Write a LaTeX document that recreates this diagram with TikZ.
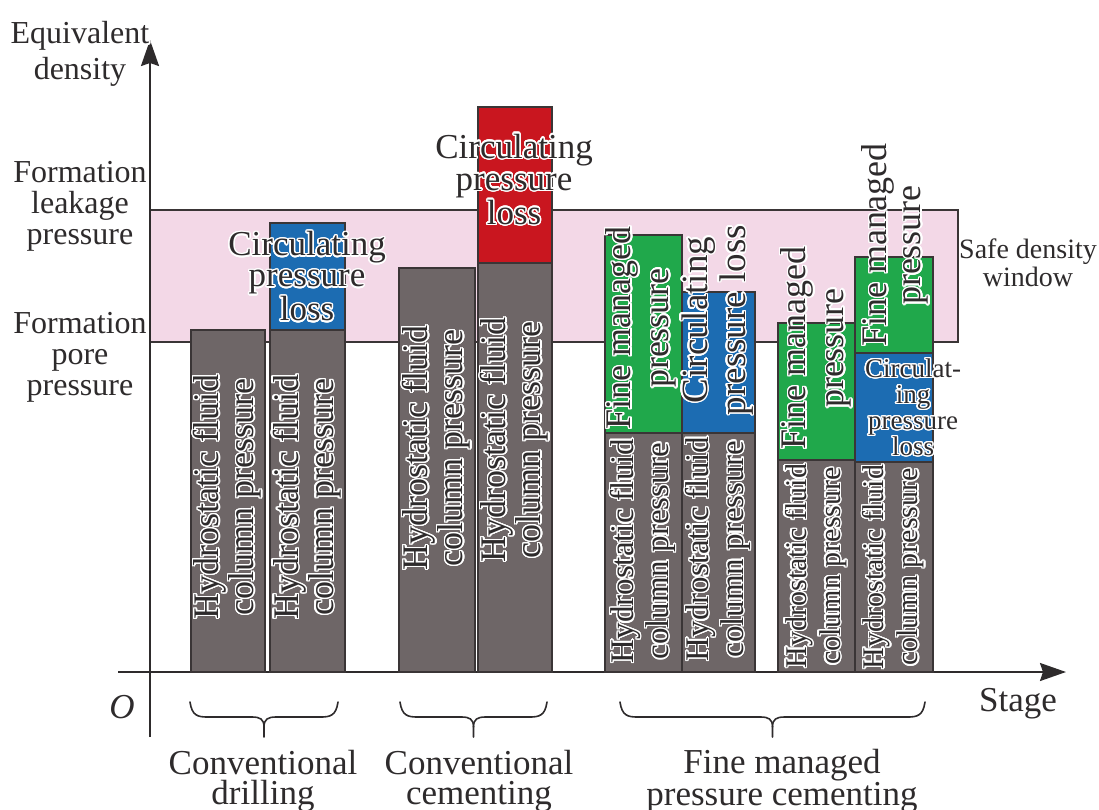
\documentclass[tikz,border=0pt]{standalone}
\usepackage{fontspec}
\setmainfont{Liberation Serif}
\usepackage[copies]{contour}
\contourlength{1.4pt}
\contournumber{24}
\usetikzlibrary{arrows.meta}
\definecolor{txt}{HTML}{2E2B2C}
\definecolor{barg}{HTML}{6E6667}
\definecolor{barb}{HTML}{1C6CB2}
\definecolor{barr}{HTML}{C9161F}
\definecolor{barn}{HTML}{20A84B}
\definecolor{winp}{HTML}{F3D8E7}
\definecolor{edge}{HTML}{3A3536}
\newcommand\ct[1]{\contour{white}{#1}}
\newcommand\fsz[2]{\fontsize{#1}{#2}\selectfont}
\tikzset{
 lbl/.style={inner sep=0pt, align=center, text=txt},
 vlbl/.style={lbl, rotate=90},
 barbox/.style={draw=edge, line width=1.3pt},
 axisline/.style={line width=2pt, draw=txt, -{Stealth[length=26pt,width=18pt,inset=3pt]}},
 grp/.style={line width=1.6pt, draw=txt, line cap=round, line join=round},
}
\newcommand\grpbrace[2]{%
 \pgfmathsetmacro\xm{(#1+#2)/2}%
 \draw[grp] (#1,702) .. controls (#1+2,716) and (#1+8,717) .. (#1+18,717) -- (\xm-12,717)
   .. controls (\xm-4,717) and (\xm,719) .. (\xm,727) -- (\xm,737);
 \draw[grp] (#2,702) .. controls (#2-2,716) and (#2-8,717) .. (#2-18,717) -- (\xm+12,717)
   .. controls (\xm+4,717) and (\xm,719) .. (\xm,727);
}
\begin{document}
\begin{tikzpicture}[x=1pt,y=-1pt]
\useasboundingbox (0,0) rectangle (1099,809);
% safe density window
\filldraw[fill=winp, draw=edge, line width=1.6pt] (150,210) rectangle (958,342);
% axes
\coordinate (yb) at (150,737);
\coordinate (yt) at (150,40);
\coordinate (xl) at (118,672);
\coordinate (xr) at (1066,672);
\draw[axisline] (yb) -- (yt);
\draw[axisline] (xl) -- (xr);
% group 1
\draw[barbox, fill=barg] (191,330) rectangle (265,672);
\draw[barbox, fill=barg] (270,330) rectangle (345,672);
\draw[barbox, fill=barb] (270,223) rectangle (345,330);
% group 2
\draw[barbox, fill=barg] (399,268) rectangle (475,672);
\draw[barbox, fill=barg] (478,263) rectangle (552,672);
\draw[barbox, fill=barr] (478,107) rectangle (552,263);
% group 3
\draw[barbox, fill=barg] (605,433) rectangle (682,672);
\draw[barbox, fill=barn] (605,235) rectangle (682,433);
\draw[barbox, fill=barg] (682,433) rectangle (755,672);
\draw[barbox, fill=barb] (682,292) rectangle (755,433);
\draw[barbox, fill=barg] (778,460) rectangle (855,672);
\draw[barbox, fill=barn] (778,323) rectangle (855,460);
\draw[barbox, fill=barg] (855,462) rectangle (933,672);
\draw[barbox, fill=barb] (855,353) rectangle (933,462);
\draw[barbox, fill=barn] (855,257) rectangle (933,353);
% hydrostatic labels
\node[vlbl, font=\fsz{36}{35}] (h1) at (228,497) {\ct{Hydrostatic fluid}\\\ct{column pressure}};
\node[vlbl, font=\fsz{36}{35}] (h2) at (307.5,497) {\ct{Hydrostatic fluid}\\\ct{column pressure}};
\node[vlbl, font=\fsz{36}{35}] (h3) at (437,448) {\ct{Hydrostatic fluid}\\\ct{column pressure}};
\node[vlbl, font=\fsz{36}{35}] (h4) at (515,440) {\ct{Hydrostatic fluid}\\\ct{column pressure}};
\node[vlbl, font=\fsz{33}{35}] (h5) at (643.5,551) {\ct{Hydrostatic fluid}\\\ct{column pressure}};
\node[vlbl, font=\fsz{33}{35}] (h6) at (718.5,549) {\ct{Hydrostatic fluid}\\\ct{column pressure}};
\node[vlbl, font=\fsz{30}{34}] (h7) at (816.5,566) {\ct{Hydrostatic fluid}\\\ct{column pressure}};
\node[vlbl, font=\fsz{30}{34}] (h8) at (894,567) {\ct{Hydrostatic fluid}\\\ct{column pressure}};
% fine managed / circulating labels in group 3
\node[vlbl, font=\fsz{36}{38}] (f5) at (642,328) {\ct{Fine managed}\\\ct{pressure}};
\node[vlbl, font=\fsz{37}{38}] (c6) at (718,320) {\ct{Circulating}\\\ct{pressure loss}};
\node[vlbl, font=\fsz{36}{38}] (f7) at (817,348) {\ct{Fine managed}\\\ct{pressure}};
\node[vlbl, font=\fsz{36}{34}] (f8) at (896,245) {\ct{Fine managed}\\\ct{pressure}};
\node[lbl, font=\fsz{27}{26}] (c8) at (913,408) {\ct{Circulat-}\\\ct{ing}\\\ct{pressure}\\\ct{loss}};
% circulating labels groups 1 and 2
\node[lbl, font=\fsz{35}{31}] (c2) at (307,277) {\ct{Circulating}\\\ct{pressure}\\\ct{loss}};
\node[lbl, font=\fsz{35}{32}] (c4) at (514,180) {\ct{Circulating}\\\ct{pressure}\\\ct{loss}};
% axis labels
\node[lbl, font=\fsz{32}{36}] (ylab) at (80,55) {\ct{Equivalent}\\\ct{density}};
\node[lbl, font=\fsz{32}{31}] (leak) at (80,207) {\ct{Formation}\\\ct{leakage}\\\ct{pressure}};
\node[lbl, font=\fsz{32}{31}] (pore) at (80,358) {\ct{Formation}\\\ct{pore}\\\ct{pressure}};
\node[lbl, font=\fsz{28}{28}] (safe) at (1028,263) {Safe density\\window};
\node[lbl, font=\fsz{35}{33}] (stage) at (1018,704) {Stage};
\node[lbl, font=\fsz{35}{33}\itshape] (orig) at (122,707) {O};
% braces and stage labels
\grpbrace{190}{338}
\grpbrace{400}{547}
\grpbrace{620}{925}
\node[lbl, font=\fsz{35}{30}] (s1) at (263,781) {Conventional\\drilling};
\node[lbl, font=\fsz{35}{30}] (s2) at (479,781) {Conventional\\cementing};
\node[lbl, font=\fsz{35}{30}] (s3) at (782,781) {Fine managed\\pressure cementing};
\end{tikzpicture}
\end{document}
